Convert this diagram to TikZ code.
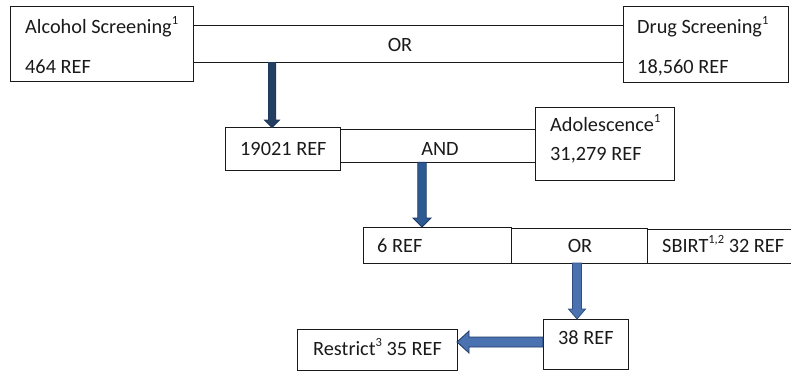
\documentclass[tikz,border=0pt]{standalone}
\usepackage{fontspec}
\setmainfont{Carlito}
\usetikzlibrary{calc}
\definecolor{txt}{HTML}{1A1A1A}
\definecolor{aAf}{HTML}{243F60}
\definecolor{aAd}{HTML}{1F3A5F}
\definecolor{aBf}{HTML}{2E5A94}
\definecolor{aBd}{HTML}{1F3864}
\definecolor{aCf}{HTML}{4A72B0}
\definecolor{aCd}{HTML}{2F4F80}
\newcommand\supx[1]{\raisebox{0.42em}{\fontsize{12.5bp}{12.5bp}\selectfont #1}}
\newcommand\bkdown[7]{%
  \path[draw=#7, fill=#6, line width=0.8bp] let \p1=(#1), \p2=(#2) in
    (\x1-#3,\y1) -- (\x1-#3,\y2+#5) -- (\x1-#4,\y2+#5) -- (\x1,\y2)
    -- (\x1+#4,\y2+#5) -- (\x1+#3,\y2+#5) -- (\x1+#3,\y1) -- cycle;}
\newcommand\bkleft[7]{%
  \path[draw=#7, fill=#6, line width=0.8bp] let \p1=(#1), \p2=(#2) in
    (\x1,\y1+#3) -- (\x2+#5,\y1+#3) -- (\x2+#5,\y1+#4) -- (\x2,\y1)
    -- (\x2+#5,\y1-#4) -- (\x2+#5,\y1-#3) -- (\x1,\y1-#3) -- cycle;}
\tikzset{
  box/.style={draw=txt, line width=0.9bp, inner sep=0pt, outer sep=0pt},
  lbl/.style={text=txt, inner sep=0pt, anchor=base west, font=\fontsize{20.3bp}{24bp}\selectfont},
  lblc/.style={lbl, anchor=base},
  conn/.style={draw=txt, line width=0.9bp},
}
\begin{document}
\begin{tikzpicture}[x=1bp,y=-1bp]
\useasboundingbox (0,0) rectangle (791,374);
\clip (0,0) rectangle (791,374);
% boxes
\node[box, minimum width=183bp, minimum height=75bp] (alc) at (101.5,43.5) {};
\node[box, minimum width=165bp, minimum height=76bp] (drug) at (705.5,44) {};
\node[box, minimum width=115bp, minimum height=43bp] (n19021) at (282.5,149) {};
\node[box, minimum width=139bp, minimum height=73bp] (adol) at (604.5,143.5) {};
\node[box, minimum width=148bp, minimum height=36bp] (six) at (437,245) {};
\node[box, minimum width=136bp, minimum height=35bp] (orbox) at (579,245.5) {};
\node[box, minimum width=153bp, minimum height=34bp] (sbirt) at (723.5,246) {};
\node[box, minimum width=85bp, minimum height=50bp] (n38) at (585.5,344) {};
\node[box, minimum width=160bp, minimum height=41bp] (restrict) at (377,349.5) {};
% texts
\node[lbl] (t1) at (25,33) {Alcohol Screening\supx{1}};
\node[lbl] (t2) at (25,73) {464 REF};
\node[lbl] (t3) at (637,33) {Drug Screening\supx{1}};
\node[lbl] (t4) at (637,73) {18,560 REF};
\node[lblc] (t5) at (400,51) {OR};
\node[lbl] (t6) at (240,155) {19021 REF};
\node[lblc] (t7) at (440,155) {AND};
\node[lbl] (t8) at (550,131) {Adolescence\supx{1}};
\node[lbl] (t9) at (550,160) {31,279 REF};
\node[lbl] (t10) at (377,252) {6 REF};
\node[lblc] (t11) at (580,252) {OR};
\node[lbl] (t12) at (662,252) {SBIRT\supx{1,2} 32 REF};
\node[lbl] (t13) at (558,344) {38 REF};
\node[lbl] (t14) at (313,355) {Restrict\supx{3} 35 REF};
% connecting lines
\coordinate (ya) at (0,25.5);
\coordinate (yb) at (0,62.5);
\coordinate (yc) at (0,129.3);
\coordinate (yd) at (0,162.3);
\draw[conn] (alc.east |- ya) -- (drug.west |- ya);
\draw[conn] (alc.east |- yb) -- (drug.west |- yb);
\draw[conn] (n19021.east |- yc) -- (adol.west |- yc);
\draw[conn] (n19021.east |- yd) -- (adol.west |- yd);
% block arrows
\coordinate (a1s) at (272,62.5);
\coordinate (a2s) at (422,162.3);
\coordinate (a3s) at (577,263);
\coordinate (a4s) at (543,342);
\bkdown{a1s}{a1s |- n19021.north}{3.6bp}{7.5bp}{7.5bp}{aAf}{aAd}
\bkdown{a2s}{a2s |- six.north}{4.2bp}{9bp}{9bp}{aBf}{aBd}
\bkdown{a3s}{a3s |- n38.north}{4.5bp}{8.5bp}{10bp}{aCf}{aCd}
\bkleft{a4s}{a4s -| restrict.east}{5bp}{11bp}{12bp}{aCf}{aBd}
\end{tikzpicture}
\end{document}
